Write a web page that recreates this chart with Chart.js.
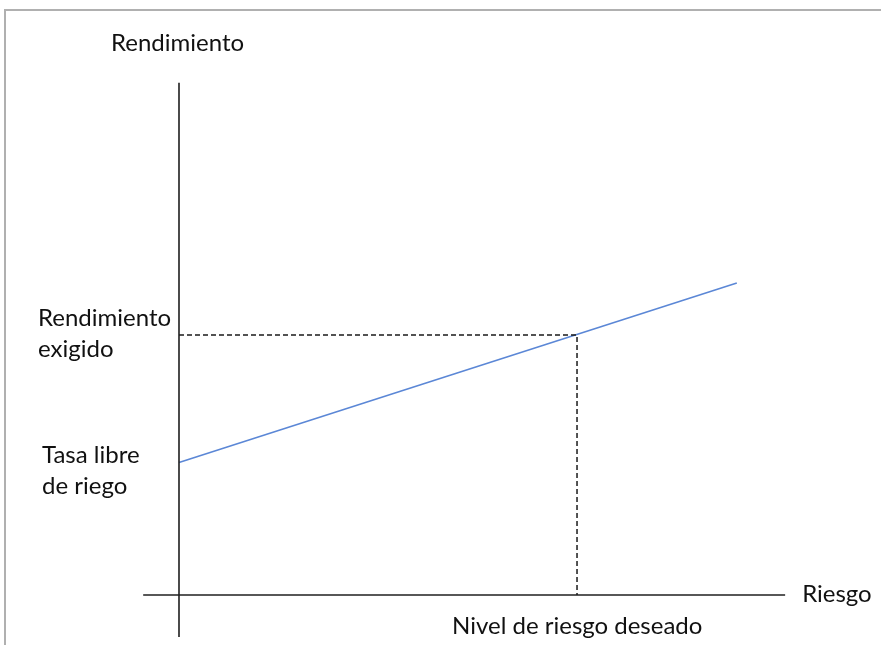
<!DOCTYPE html>
<html>
<head>
<meta charset="utf-8">
<script src="https://cdn.jsdelivr.net/npm/chart.js@4/dist/chart.umd.min.js"></script>
<style>
  html, body { margin: 0; padding: 0; background: #fff; }
  #wrap { position: relative; width: 881px; height: 645px; }
  #frame { position: absolute; left: 4px; top: 9px; right: -4px; bottom: -4px; border: 2px solid #b0b0b0; }
  canvas { position: absolute; left: 0; top: 0; }
</style>
</head>
<body>
<div id="wrap">
  <div id="frame"></div>
  <canvas id="chart" width="881" height="645"></canvas>
</div>
<script>
// risk (x) and return (y) values
const cmlRisk = [0, 9.81];
const cmlReturn = [5.1, 12];
const desiredRisk = 7;
const requiredReturn = 10;
const axisXRange = [-0.63, 10.66];
const axisYRange = [-1.62, 19.7];

const labelFont = '24px Lato';

// Draw the text labels next to the axes
const labelsPlugin = {
  id: 'labels',
  afterDatasetsDraw(chart) {
    const ctx = chart.ctx;
    const x = chart.scales.x, y = chart.scales.y;
    const x0 = x.getPixelForValue(0);
    const y0 = y.getPixelForValue(0);
    ctx.save();
    ctx.fillStyle = '#111';
    ctx.font = labelFont;
    ctx.textBaseline = 'alphabetic';
    ctx.textAlign = 'left';
    ctx.fillText('Rendimiento', x0 - 68, y.getPixelForValue(axisYRange[1]) - 32);
    const yReq = y.getPixelForValue(requiredReturn);
    ctx.fillText('Rendimiento', x0 - 141, yReq - 9);
    ctx.fillText('exigido', x0 - 141, yReq + 22);
    const yRf = y.getPixelForValue(cmlReturn[0]);
    ctx.fillText('Tasa libre', x0 - 137, yRf + 1);
    ctx.fillText('de riego', x0 - 137, yRf + 32);
    ctx.fillText('Riesgo', x.getPixelForValue(axisXRange[1]) + 17, y0 + 7);
    ctx.fillText('Nivel de riesgo deseado', x.getPixelForValue(desiredRisk) - 125, y0 + 39);
    ctx.restore();
  }
};

new Chart(document.getElementById('chart'), {
  type: 'scatter',
  plugins: [labelsPlugin],
  data: {
    datasets: [
      {
        // horizontal axis
        data: [{ x: axisXRange[0], y: 0 }, { x: axisXRange[1], y: 0 }],
        showLine: true, borderColor: '#1f1f1f', borderWidth: 1.6, pointRadius: 0
      },
      {
        // vertical axis
        data: [{ x: 0, y: axisYRange[0] }, { x: 0, y: axisYRange[1] }],
        showLine: true, borderColor: '#1f1f1f', borderWidth: 1.6, pointRadius: 0
      },
      {
        // dashed guides
        data: [{ x: 0, y: requiredReturn }, { x: desiredRisk, y: requiredReturn }, { x: desiredRisk, y: 0 }],
        showLine: true, borderColor: '#1a1a1a', borderWidth: 1.5, borderDash: [5, 3], pointRadius: 0
      },
      {
        data: cmlRisk.map((r, i) => ({ x: r, y: cmlReturn[i] })),
        showLine: true, borderColor: '#5b87d6', borderWidth: 1.6, pointRadius: 0
      }
    ]
  },
  options: {
    responsive: false,
    animation: false,
    layout: { padding: 0 },
    plugins: { legend: { display: false }, tooltip: { enabled: false } },
    scales: {
      x: { type: 'linear', display: false, min: -3.148, max: 12.346 },
      y: { type: 'linear', display: false, min: -1.923, max: 22.885 }
    }
  }
});
</script>
</body>
</html>
